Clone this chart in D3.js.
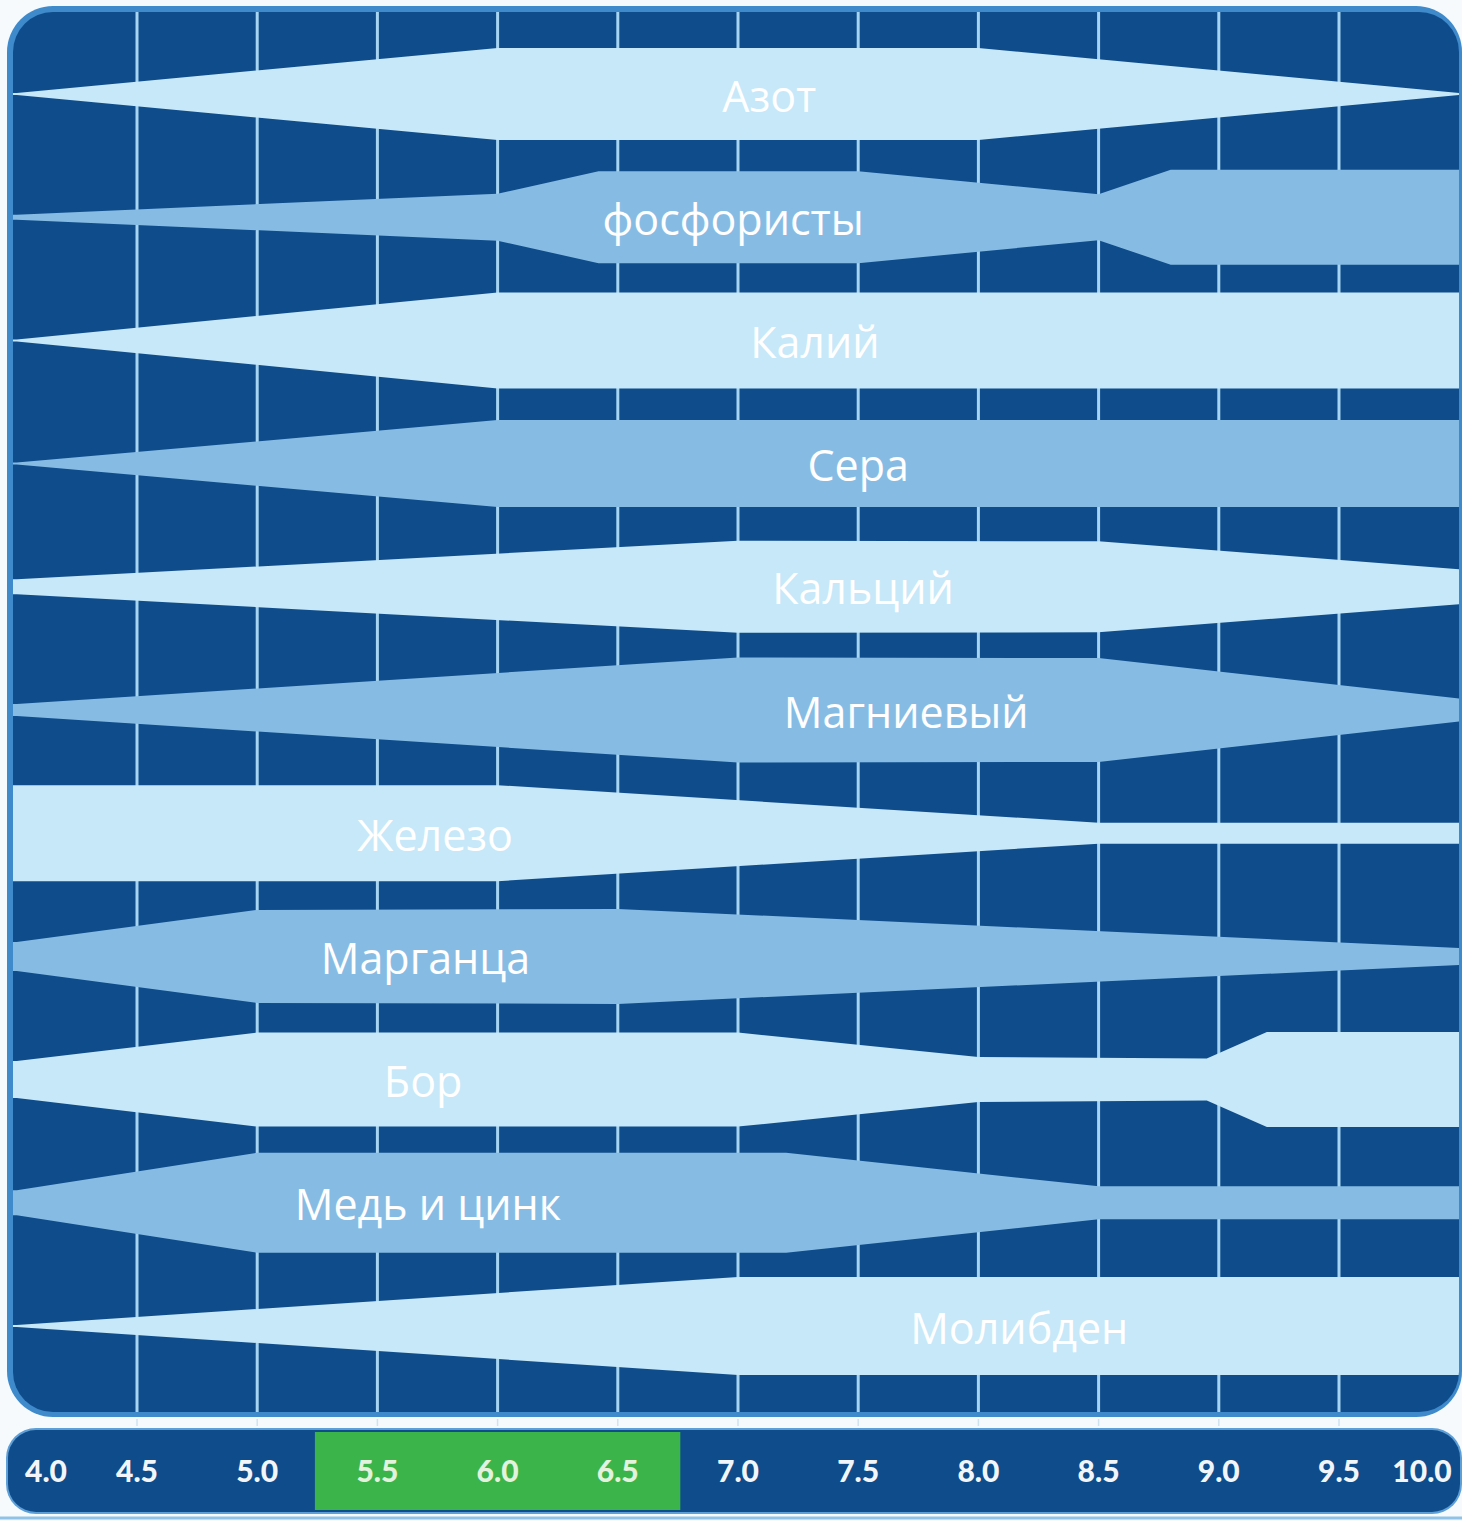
<!DOCTYPE html>
<html>
<head>
<meta charset="utf-8">
<script src="https://cdn.jsdelivr.net/npm/d3@7/dist/d3.min.js"></script>
<style>
  html, body { margin: 0; padding: 0; background: #f6fafd; }
  svg { display: block; }
</style>
</head>
<body>
<svg id="chart" width="1462" height="1521"></svg>
<script>
// ---------------- DATA ----------------
const phTicks = [4.0, 4.5, 5.0, 5.5, 6.0, 6.5, 7.0, 7.5, 8.0, 8.5, 9.0, 9.5, 10.0];
const gridPH = [4.5, 5.0, 5.5, 6.0, 6.5, 7.0, 7.5, 8.0, 8.5, 9.0, 9.5];
const optimalRange = [5.24, 6.76];

const nutrients = ["Азот", "фосфористы", "Калий", "Сера", "Кальций", "Магниевый",
                   "Железо", "Марганца", "Бор", "Медь и цинк", "Молибден"];
const bandTone = ["light", "medium", "light", "medium", "light", "medium",
                  "light", "medium", "light", "medium", "light"];
const labelPH = [7.13, 6.98, 7.32, 7.50, 7.52, 7.70, 5.74, 5.70, 5.69, 5.71, 8.17];

// availability (relative band thickness) at pH points
const azot       = [[4.0, 2], [6.0, 92], [8.0, 92], [10.0, 2]];
const phosphorus = [[4.0, 5], [6.0, 47], [6.42, 92], [7.5, 92], [8.5, 46], [8.8, 95], [10.0, 95]];
const kalium     = [[4.0, 2], [6.0, 96], [10.0, 96]];
const sulfur     = [[4.0, 2], [6.0, 87], [10.0, 87]];
const calcium    = [[4.0, 15], [7.0, 92], [8.5, 91], [10.0, 35]];
const magnesium  = [[4.0, 12], [7.0, 105], [8.5, 104], [10.0, 23]];
const iron       = [[4.0, 96], [6.0, 96], [8.5, 21], [10.0, 21]];
const manganese  = [[4.0, 29], [5.0, 93], [6.5, 95], [10.0, 17]];
const boron      = [[4.0, 37], [5.0, 94], [7.0, 94], [8.0, 45], [8.95, 42], [9.2, 95], [10.0, 95]];
const copperZinc = [[4.0, 25], [5.0, 100], [7.2, 100], [8.5, 33], [10.0, 33]];
const molybdenum = [[4.0, 2], [7.0, 98], [10.0, 98]];

const profiles = [azot, phosphorus, kalium, sulfur, calcium, magnesium,
                  iron, manganese, boron, copperZinc, molybdenum];

// ---------------- DRAWING ----------------
const svg = d3.select("#chart");
const W = 1462, H = 1521;

const colors = {
  page: "#f6fafd",
  border: "#3f8acb",
  bg: "#0f4c8b",
  grid: "#a6d4f1",
  light: "#c6e8f8",
  medium: "#86bce4",
  green: "#3bb54a"
};

const x = d3.scaleLinear().domain([4, 10]).range([16.8, 1459.2]);
const y = d3.scalePoint().domain(nutrients).range([94, 1326]);
const thick = d3.scaleLinear().domain([0, 100]).range([0, 100]);

const frame = { x: 13, y: 12, w: 1446, h: 1400, r: 40 };

// outer border + inner background
svg.append("rect").attr("x", 7).attr("y", 6).attr("width", 1455).attr("height", 1411)
  .attr("rx", 46).attr("fill", colors.border);
svg.append("rect").attr("x", frame.x).attr("y", frame.y).attr("width", frame.w).attr("height", frame.h)
  .attr("rx", frame.r).attr("fill", colors.bg);

const defs = svg.append("defs");
defs.append("clipPath").attr("id", "frameClip")
  .append("rect").attr("x", frame.x).attr("y", frame.y).attr("width", frame.w).attr("height", frame.h)
  .attr("rx", frame.r);

const plot = svg.append("g").attr("clip-path", "url(#frameClip)");

// vertical grid
plot.append("g").selectAll("line").data(gridPH).join("line")
  .attr("x1", d => x(d)).attr("x2", d => x(d))
  .attr("y1", frame.y).attr("y2", frame.y + frame.h)
  .attr("stroke", colors.grid).attr("stroke-width", 3);

// bands
const bands = plot.append("g");
nutrients.forEach((name, i) => {
  const prof = profiles[i];
  const ext = [[3.9, prof[0][1]], ...prof, [10.1, prof[prof.length - 1][1]]];
  const cy = y(name);
  const area = d3.area()
    .x(d => x(d[0]))
    .y0(d => cy - thick(d[1]) / 2)
    .y1(d => cy + thick(d[1]) / 2)
    .curve(d3.curveLinear);
  bands.append("path").datum(ext)
    .attr("d", area)
    .attr("fill", colors[bandTone[i]]);
});

// labels
plot.append("g").selectAll("text").data(nutrients).join("text")
  .attr("x", (d, i) => x(labelPH[i]))
  .attr("y", d => y(d) + 1)
  .attr("text-anchor", "middle")
  .attr("dominant-baseline", "central")
  .attr("font-family", "'Open Sans', 'Noto Sans', sans-serif")
  .attr("font-size", 43)
  .attr("fill", "#ffffff")
  .text(d => d);

// small tick marks between frame and axis bar
svg.append("g").selectAll("line").data(gridPH).join("line")
  .attr("x1", d => x(d)).attr("x2", d => x(d))
  .attr("y1", 1419).attr("y2", 1426)
  .attr("stroke", "#cfe3ef").attr("stroke-width", 1.5);

// axis bar
const bar = { x: 8, y: 1430, w: 1452, h: 82, r: 28 };
svg.append("rect").attr("x", bar.x - 2).attr("y", bar.y - 2).attr("width", bar.w + 4).attr("height", bar.h + 4)
  .attr("rx", bar.r + 2).attr("fill", "#5d9fd6");
svg.append("rect").attr("x", bar.x).attr("y", bar.y).attr("width", bar.w).attr("height", bar.h)
  .attr("rx", bar.r).attr("fill", colors.bg);
svg.append("rect")
  .attr("x", x(optimalRange[0])).attr("y", bar.y + 2)
  .attr("width", x(optimalRange[1]) - x(optimalRange[0])).attr("height", bar.h - 4)
  .attr("fill", colors.green);

const inGreen = v => x(v) > x(optimalRange[0]) && x(v) < x(optimalRange[1]);
svg.append("g").selectAll("text").data(phTicks).join("text")
  .attr("x", d => Math.max(46, Math.min(1422, x(d))))
  .attr("y", bar.y + bar.h / 2 - 1)
  .attr("text-anchor", "middle")
  .attr("dominant-baseline", "central")
  .attr("font-family", "Lato, 'DejaVu Sans', sans-serif")
  .attr("font-weight", 900)
  .attr("font-size", 30)
  .attr("fill", d => inGreen(d) ? "#e3f2dc" : "#f2f6fa")
  .text(d => d.toFixed(1));

// bottom line
svg.append("line").attr("x1", 0).attr("x2", W).attr("y1", 1518).attr("y2", 1518)
  .attr("stroke", "#8fc2e6").attr("stroke-width", 3);
</script>
</body>
</html>
